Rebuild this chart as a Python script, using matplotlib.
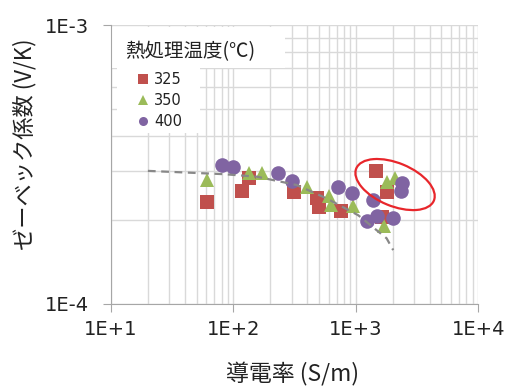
import matplotlib
matplotlib.use('Agg')
import matplotlib.pyplot as plt
from matplotlib.patches import Rectangle, Ellipse
from matplotlib.lines import Line2D
from matplotlib.ticker import FuncFormatter, NullFormatter, LogLocator
from matplotlib.transforms import IdentityTransform
import numpy as np

jp = ['Noto Sans CJK JP', 'DejaVu Sans']

# conductivity (S/m) and Seebeck coefficient (V/K) per anneal temperature
sigma_325 = [61, 117, 134, 313, 483, 499, 750, 1466, 1780, 1620]
seebeck_325 = [2.33e-4, 2.55e-4, 2.82e-4, 2.53e-4, 2.40e-4, 2.23e-4, 2.16e-4, 3.00e-4, 2.53e-4, 2.05e-4]

sigma_350 = [61, 134, 170, 401, 605, 631, 950, 1694, 1803, 2080]
seebeck_350 = [2.78e-4, 2.94e-4, 2.94e-4, 2.63e-4, 2.44e-4, 2.26e-4, 2.25e-4, 1.91e-4, 2.74e-4, 2.84e-4]

sigma_400 = [80, 99, 230, 299, 708, 922, 1368, 1222, 1493, 2018, 2389, 2328]
seebeck_400 = [3.15e-4, 3.10e-4, 2.94e-4, 2.76e-4, 2.62e-4, 2.49e-4, 2.36e-4, 1.99e-4, 2.07e-4, 2.03e-4, 2.71e-4, 2.54e-4]

# guide curve
trend_sigma = [20, 83, 155, 328, 577, 1045, 1781, 2018]
trend_seebeck = [3.0e-4, 2.92e-4, 2.86e-4, 2.67e-4, 2.39e-4, 2.08e-4, 1.72e-4, 1.56e-4]

labels = ['325', '350', '400']
colors = ['#C0504D', '#9BBB59', '#8064A2']
markers = ['s', '^', 'o']

fig = plt.figure(figsize=(5.06, 3.87), dpi=100)
ax = fig.add_axes([0.2194, 0.2145, 0.7259, 0.7209])
ax.set_xscale('log')
ax.set_yscale('log')
ax.set_xlim(10, 1e4)
ax.set_ylim(1e-4, 1e-3)

ax.xaxis.set_minor_locator(LogLocator(base=10, subs=np.arange(2, 10)))
ax.yaxis.set_minor_locator(LogLocator(base=10, subs=np.arange(2, 10)))
fmt = FuncFormatter(lambda v, p: '1E%+d' % round(np.log10(v)))
ax.xaxis.set_major_formatter(fmt)
ax.yaxis.set_major_formatter(fmt)
ax.xaxis.set_minor_formatter(NullFormatter())
ax.yaxis.set_minor_formatter(NullFormatter())

ax.grid(True, which='both', color='#D9D9D9', lw=1.0)
ax.set_axisbelow(True)
for s in ['top', 'right']:
    ax.spines[s].set_visible(False)
for s in ['left', 'bottom']:
    ax.spines[s].set_color('#A6A6A6')
ax.tick_params(which='minor', length=0)
ax.tick_params(which='major', direction='out', color='#A6A6A6', labelsize=14, labelcolor='#222222')
ax.tick_params(axis='y', which='major', length=6, pad=10)
ax.tick_params(axis='x', which='major', length=5.5, pad=6)

# data
sigmas = [sigma_325, sigma_350, sigma_400]
seebecks = [seebeck_325, seebeck_350, seebeck_400]
sizes = [9.5, 10.5, 10.5]
for sx, sy, c, m, ms in zip(sigmas, seebecks, colors, markers, sizes):
    ax.plot(sx, sy, m, color=c, ms=ms, mec=c, mew=0, zorder=3)

ax.plot(trend_sigma, trend_seebeck, color='#888888', lw=1.6, ls=(0, (3.5, 2.5)), zorder=4)

# white boxes behind legend title and entries
ax.add_patch(Rectangle((0.003, 0.846), 0.471, 0.147, transform=ax.transAxes,
                       facecolor='white', edgecolor='none', zorder=1))
ax.add_patch(Rectangle((0.016, 0.613), 0.226, 0.235, transform=ax.transAxes,
                       facecolor='white', edgecolor='none', zorder=1))
ax.text(0.038, 0.904, '熱処理温度(℃)', transform=ax.transAxes, ha='left', va='center',
        fontsize=14, family=jp, color='#222222', zorder=6)

handles = [Line2D([], [], ls='none', marker=m, color=c, ms=6.5, mew=0)
           for m, c in zip(markers, colors)]
leg = ax.legend(handles, labels, loc='upper left', bbox_to_anchor=(0.067, 0.83),
                frameon=False, fontsize=10.5, handlelength=1.0, handletextpad=0.25,
                labelspacing=0.4, borderpad=0, borderaxespad=0)
for t in leg.get_texts():
    t.set_color('#222222')
leg.set_zorder(6)

# highlight ellipse around the high-conductivity cluster
cx, cy = ax.transData.transform((2089, 2.68e-4))
ax.add_patch(Ellipse((cx, cy), 84, 43, angle=-22.5, transform=IdentityTransform(),
                     fill=False, edgecolor='#E8262B', lw=1.6, zorder=5))

fig.text(0.049, 0.627, 'ゼーベック係数 (V/K)', rotation=90, ha='center', va='center',
         fontsize=16, family=jp, color='#222222')
fig.text(0.578, 0.032, '導電率 (S/m)', ha='center', va='center',
         fontsize=16.5, family=jp, color='#222222')

fig.savefig('out.png', dpi=100)
